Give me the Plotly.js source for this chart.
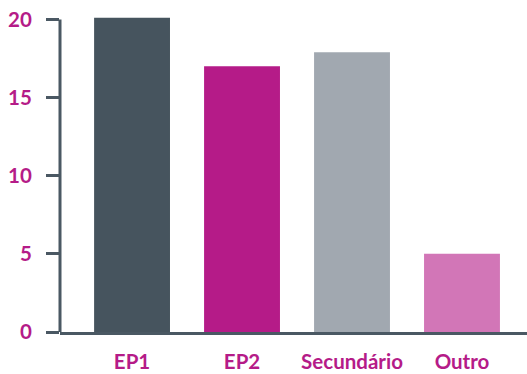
<!DOCTYPE html>
<html>
<head>
<meta charset="utf-8">
<script src="https://cdn.plot.ly/plotly-3.0.1.min.js"></script>
<style>html,body{margin:0;padding:0;background:#fff;}#chart{width:527px;height:374px;}</style>
</head>
<body>
<div id="chart"></div>
<script>
const categories = ["EP1", "EP2", "Secundário", "Outro"];
const values = [20.1, 17.0, 17.9, 5.0];
const barColors = ["#46545e", "#b51b88", "#a1a8b0", "#d276b7"];
const yTicks = [0, 5, 10, 15, 20];

const axisColor = "#4a5863";
const textColor = "#b51b88";
const font = {family: "Lato, 'Open Sans', sans-serif", size: 20.5, color: textColor, weight: 700};

const trace = {
  type: "bar",
  x: categories,
  y: values,
  marker: {color: barColors, line: {width: 0}},
  hoverinfo: "none"
};

const layout = {
  width: 527,
  height: 374,
  margin: {l: 60, r: 0, t: 10, b: 42, pad: 0},
  paper_bgcolor: "#ffffff",
  plot_bgcolor: "#ffffff",
  showlegend: false,
  bargap: 0.31,
  font: font,
  xaxis: {
    type: "category",
    range: [-0.655, 3.591],
    showgrid: false,
    zeroline: false,
    showline: true,
    linecolor: axisColor,
    linewidth: 3,
    ticks: "",
    tickfont: font,
    ticklabelstandoff: 9,
    fixedrange: true
  },
  yaxis: {
    range: [0, 20.6],
    tickvals: yTicks,
    ticktext: yTicks.map(String),
    showgrid: false,
    zeroline: false,
    showline: false,
    ticks: "outside",
    ticklen: 13,
    tickwidth: 3,
    tickcolor: axisColor,
    tickfont: font,
    ticklabelstandoff: 10,
    fixedrange: true
  },
  shapes: [{
    type: "line",
    xref: "paper", yref: "y",
    x0: 0, x1: 0,
    y0: 0, y1: yTicks[yTicks.length - 1],
    line: {color: axisColor, width: 3},
    layer: "above"
  }]
};

Plotly.newPlot("chart", [trace], layout, {displayModeBar: false, staticPlot: true});
</script>
</body>
</html>
